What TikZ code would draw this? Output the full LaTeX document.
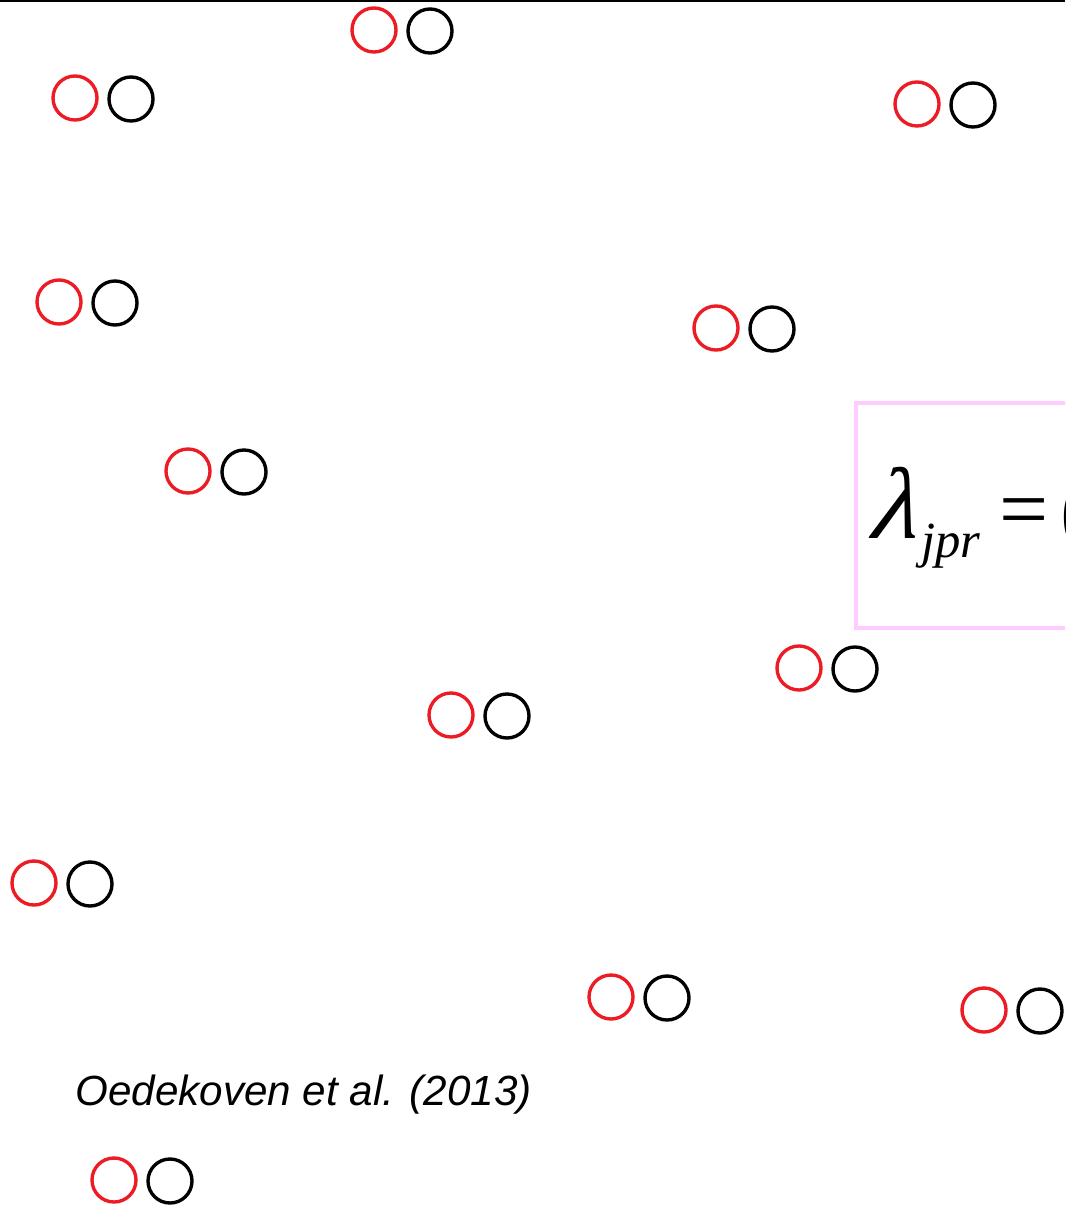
\documentclass[tikz,border=0pt]{standalone}
\usepackage{fontspec}
\usepackage{xcolor}
\newfontfamily\capfont{Liberation Sans}
\newfontfamily\eqfont{Liberation Serif}
\definecolor{ringred}{HTML}{ED1C24}
\definecolor{boxpink}{HTML}{FFCCFF}
\tikzset{
  redring/.style={circle,draw=ringred,line width=2.4pt,minimum size=1.1cm,inner sep=0pt},
  blackring/.style={circle,draw=black,line width=2.4pt,minimum size=1.1cm,inner sep=0pt},
  eqtext/.style={anchor=base west,inner sep=0pt,font=\eqfont\itshape\fontsize{62}{70}\selectfont},
}

\begin{document}
\begin{tikzpicture}[x=0.025cm,y=-0.025cm]
\useasboundingbox (0,0) rectangle (1065,1207);
\clip (0,0) rectangle (1065,1207);
\draw[line width=1.5pt] (0,0.5) -- (1065,0.5);
% pairs of rings
\foreach \x/\y [count=\i] in {374/30,75/98,917/104,59/302,716/328,188/471,
  799/668,451/715,34/883,611/997,984/1010,114/1180}{
  \node[redring] (r\i) at (\x,\y) {};
  \node[blackring] (b\i) at (\x+56,\y+1) {};
}
% model box
\draw[boxpink,line width=3pt] (1100,403) -- (856,403) -- (856,628) -- (1100,628);
\node[eqtext,xslant=0.3,font=\eqfont\fontsize{72}{80}\selectfont] (lam) at (866,538) {λ};
\node[eqtext,font=\eqfont\itshape\fontsize{36}{40}\selectfont] (sub) at (921,557) {jpr};
\node[eqtext,font=\eqfont\fontsize{62}{70}\selectfont] (eq) at (999,538) {=};
\node[eqtext,font=\eqfont\fontsize{62}{70}\selectfont] (par) at (1060,538) {(};
\node[anchor=base west,inner sep=0pt,font=\capfont\itshape\fontsize{30}{36}\selectfont] (cite) at (75,1105) {Oedekoven et al. (2013)};
\end{tikzpicture}
\end{document}
